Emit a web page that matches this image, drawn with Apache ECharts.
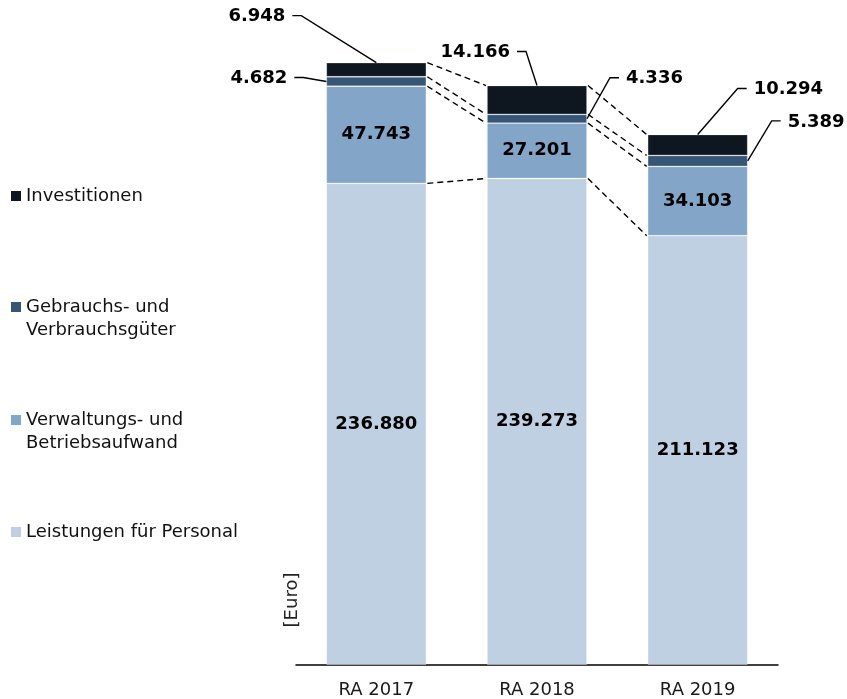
<!DOCTYPE html>
<html>
<head>
<meta charset="utf-8">
<script src="https://cdn.jsdelivr.net/npm/echarts@6/dist/echarts.min.js"></script>
<style>html,body{margin:0;padding:0;background:#fff}#c{width:847px;height:699px}</style>
</head>
<body>
<div id="c"></div>
<script>
// ---- data ----
const categories = ['RA 2017', 'RA 2018', 'RA 2019'];
const seriesNames = ['Leistungen für Personal', 'Verwaltungs- und Betriebsaufwand', 'Gebrauchs- und Verbrauchsgüter', 'Investitionen'];
const personal = [236880, 239273, 211123];
const verwaltung = [47743, 27201, 34103];
const gebrauch = [4682, 4336, 5389];
const invest = [6948, 14166, 10294];
const unitLabel = '[Euro]';

// ---- styles ----
const FONT = 'DejaVu Sans';
const colors = ['#BFD0E3', '#82A5C8', '#375676', '#0E1620'];
const BAR_W = 100;
const values = [personal, verwaltung, gebrauch, invest];

function fmt(n) { return String(n).replace(/\B(?=(\d{3})+(?!\d))/g, '.'); }
function cumBelow(cat, s) { let t = 0; for (let k = 0; k < s; k++) t += values[k][cat]; return t; }

// external label layout (pixel offsets of the leader elbow from the anchor)
const annotLayout = [
  { cat: 0, s: 3, anchor: 'top', dx: -75, dy: -47, side: 'left' },
  { cat: 0, s: 2, anchor: 'left', dx: -23, dy: -4, side: 'left' },
  { cat: 1, s: 3, anchor: 'top', dx: -11, dy: -34, side: 'left' },
  { cat: 1, s: 2, anchor: 'right', dx: 23, dy: -41, side: 'right' },
  { cat: 2, s: 3, anchor: 'top', dx: 40, dy: -46, side: 'right' },
  { cat: 2, s: 2, anchor: 'right', dx: 24, dy: -40, side: 'right' }
];

const chart = echarts.init(document.getElementById('c'));

const barSeries = seriesNames.map((name, s) => ({
  name: name,
  type: 'bar',
  stack: 'total',
  barWidth: BAR_W,
  data: values[s],
  itemStyle: { color: colors[s], borderColor: 'rgba(255,255,255,0.3)', borderWidth: 0.8 },
  label: {
    show: s < 2,
    position: 'inside',
    fontFamily: FONT,
    fontWeight: 'bold',
    fontSize: 18,
    color: '#000',
    formatter: p => fmt(p.value)
  },
  emphasis: { disabled: true }
}));

const connectorSeries = {
  type: 'custom',
  silent: true,
  z: 5,
  data: [[0, 0], [1, 0]],
  renderItem: function (params, api) {
    const i = api.value(0);
    const children = [];
    for (let k = 1; k <= values.length; k++) {
      const p1 = api.coord([i, cumBelow(i, k)]);
      const p2 = api.coord([i + 1, cumBelow(i + 1, k)]);
      children.push({
        type: 'line',
        shape: { x1: p1[0] + BAR_W / 2 + 1, y1: p1[1], x2: p2[0] - BAR_W / 2 - 1, y2: p2[1] },
        style: { stroke: '#000', lineWidth: 1.4, lineDash: [6, 4] }
      });
    }
    return { type: 'group', children: children };
  }
};

const annotSeries = {
  type: 'custom',
  silent: true,
  z: 6,
  data: annotLayout.map((a, idx) => [a.cat, idx]),
  renderItem: function (params, api) {
    const a = annotLayout[api.value(1)];
    const bottom = cumBelow(a.cat, a.s);
    const top = bottom + values[a.s][a.cat];
    const pT = api.coord([a.cat, top]);
    const pB = api.coord([a.cat, bottom]);
    const midY = (pT[1] + pB[1]) / 2;
    let ax, ay;
    if (a.anchor === 'top') { ax = pT[0]; ay = pT[1]; }
    else if (a.anchor === 'left') { ax = pT[0] - BAR_W / 2; ay = midY; }
    else { ax = pT[0] + BAR_W / 2; ay = midY; }
    const ex = ax + a.dx, ey = ay + a.dy;
    const dir = a.side === 'left' ? -1 : 1;
    const armX = ex + dir * 9;
    return {
      type: 'group',
      children: [
        { type: 'polyline', shape: { points: [[ax, ay], [ex, ey], [armX, ey]] }, style: { stroke: '#000', lineWidth: 1.4, fill: null } },
        { type: 'text', x: armX + dir * 7, y: ey + 1,
          style: { text: fmt(values[a.s][a.cat]), fontFamily: FONT, fontWeight: 'bold', fontSize: 18, fill: '#000',
                   align: a.side === 'left' ? 'right' : 'left', verticalAlign: 'middle' } }
      ]
    };
  }
};

const legendText = { fontFamily: FONT, fontSize: 18, color: '#111', lineHeight: 23 };
function twoLine(name) { return name.replace(' und ', ' und\n'); }
const legendTops = [184.5, 295.5, 408.5, 520.5];
const legendOrder = [3, 2, 1, 0];
const legends = legendOrder.map((s, j) => {
  const multi = seriesNames[s].indexOf(' und ') >= 0;
  return {
    data: [multi ? { name: seriesNames[s], icon: 'path://M0 0H10V10H0ZM0 33H10' } : { name: seriesNames[s], icon: 'rect' }],
    left: 11,
    top: legendTops[j],
    padding: 0,
    orient: 'vertical',
    itemWidth: 10,
    itemHeight: multi ? 33 : 10,
    itemGap: 0,
    selectedMode: false,
    itemStyle: { borderWidth: 0 },
    textStyle: legendText,
    formatter: n => twoLine(n)
  };
});

chart.setOption({
  animation: false,
  backgroundColor: '#fff',
  legend: legends,
  grid: { left: 296, right: 69, top: 55, bottom: 34 },
  xAxis: {
    type: 'category',
    data: categories,
    axisTick: { show: false },
    axisLine: { lineStyle: { color: '#000', width: 1.5 } },
    axisLabel: { fontFamily: FONT, fontSize: 18, color: '#1a1a1a', margin: 16 }
  },
  yAxis: { type: 'value', min: 0, max: 300000, show: false },
  graphic: [{
    type: 'text', x: 292, y: 600, rotation: Math.PI / 2,
    style: { text: unitLabel, fontFamily: FONT, fontSize: 18, fill: '#222', align: 'center', verticalAlign: 'middle' }
  }],
  series: barSeries.concat([connectorSeries, annotSeries])
});
</script>
</body>
</html>
